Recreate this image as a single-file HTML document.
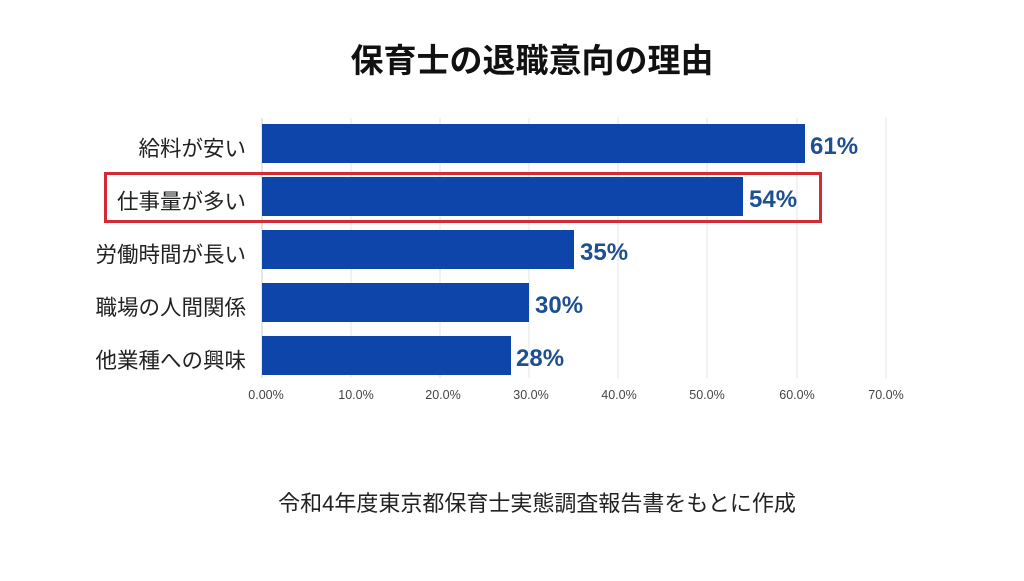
<!DOCTYPE html>
<html><head><meta charset="utf-8"><style>
body{margin:0;width:1024px;height:576px;background:#fff;overflow:hidden}
svg text{font-family:"Liberation Sans","Noto Sans CJK JP",sans-serif}
</style></head><body>
<svg width="1024" height="576" xmlns="http://www.w3.org/2000/svg">
<text x="532" y="72" text-anchor="middle" font-size="33" font-weight="bold" fill="#111">保育士の退職意向の理由</text>
<g stroke="#e4e4e4" stroke-width="1">
<line x1="351" y1="118" x2="351" y2="378"/><line x1="440" y1="118" x2="440" y2="378"/>
<line x1="529" y1="118" x2="529" y2="378"/><line x1="618" y1="118" x2="618" y2="378"/>
<line x1="707" y1="118" x2="707" y2="378"/><line x1="797" y1="118" x2="797" y2="378"/>
<line x1="886" y1="118" x2="886" y2="378"/>
</g>
<line x1="262" y1="118" x2="262" y2="378" stroke="#ccc"/>
<g fill="#0d45aa">
<rect x="262" y="124" width="543" height="39"/>
<rect x="262" y="177" width="481" height="39"/>
<rect x="262" y="230" width="312" height="39"/>
<rect x="262" y="283" width="267" height="39"/>
<rect x="262" y="336" width="249" height="39"/>
</g>
<rect x="105.5" y="173.5" width="715" height="48" fill="none" stroke="#d42a36" stroke-width="3"/>
<g font-size="24" font-weight="bold" fill="#1d4f91">
<text x="810" y="154">61%</text><text x="749" y="207">54%</text>
<text x="580" y="260">35%</text><text x="535" y="313">30%</text><text x="516" y="366">28%</text>
</g>
<g font-size="21.5" fill="#222" text-anchor="end">
<text x="246" y="156">給料が安い</text><text x="246" y="209">仕事量が多い</text>
<text x="246" y="262">労働時間が長い</text><text x="246" y="315">職場の人間関係</text>
<text x="246" y="368">他業種への興味</text>
</g>
<g font-size="12.5" fill="#444" text-anchor="middle">
<text x="266" y="399">0.00%</text><text x="356" y="399">10.0%</text><text x="443" y="399">20.0%</text>
<text x="531" y="399">30.0%</text><text x="619" y="399">40.0%</text><text x="707" y="399">50.0%</text>
<text x="797" y="399">60.0%</text><text x="886" y="399">70.0%</text>
</g>
<text x="537" y="511" text-anchor="middle" font-size="22" fill="#222">令和4年度東京都保育士実態調査報告書をもとに作成</text>
</svg>
</body></html>
